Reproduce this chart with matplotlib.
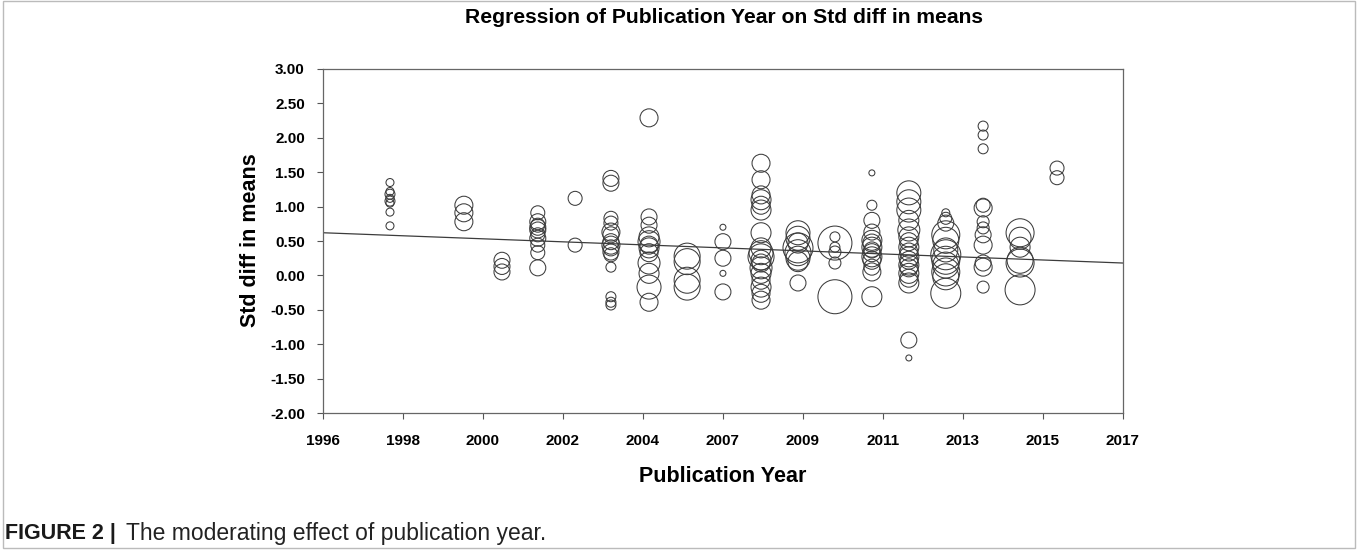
import matplotlib.pyplot as plt
import numpy as np
from matplotlib.patches import Rectangle

plt.rcParams['font.family'] = ['Liberation Sans', 'DejaVu Sans']

# study positions on the year axis, effect sizes and bubble radii (weights)
grp_x = [1997.76, 1999.70, 2000.70, 2001.64, 2002.62, 2003.56, 2004.56, 2005.56,
         2006.50, 2007.50, 2008.47, 2009.44, 2010.41, 2011.38, 2012.35, 2013.33,
         2014.30, 2015.27]

grp_y = [
    [1.35, 1.22, 1.18, 1.12, 1.08, 1.05, 0.92, 0.72],
    [1.02, 0.91, 0.78],
    [0.22, 0.13, 0.05],
    [0.91, 0.78, 0.73, 0.70, 0.66, 0.59, 0.54, 0.44, 0.33, 0.11],
    [1.12, 0.44],
    [1.41, 1.34, 0.83, 0.76, 0.63, 0.59, 0.49, 0.44, 0.40, 0.34, 0.30, 0.12,
     -0.31, -0.39, -0.43],
    [2.29, 0.85, 0.73, 0.56, 0.49, 0.44, 0.40, 0.33, 0.18, 0.03, -0.17, -0.39],
    [0.28, 0.20, -0.07, -0.17],
    [0.70, 0.49, 0.25, 0.03, -0.24],
    [1.63, 1.39, 1.17, 1.10, 1.02, 0.95, 0.62, 0.40, 0.33, 0.27, 0.22, 0.18,
     0.11, 0.03, -0.07, -0.17, -0.26, -0.36],
    [0.62, 0.54, 0.47, 0.40, 0.33, 0.25, 0.20, -0.11],
    [0.47, 0.56, 0.41, 0.34, 0.18, -0.31],
    [1.49, 1.02, 0.80, 0.63, 0.51, 0.47, 0.41, 0.37, 0.33, 0.27, 0.22, 0.12,
     0.05, -0.31],
    [1.20, 1.07, 0.95, 0.80, 0.66, 0.56, 0.49, 0.41, 0.34, 0.27, 0.22, 0.15,
     0.11, 0.03, -0.04, -0.11, -0.94, -1.20],
    [0.91, 0.83, 0.76, 0.59, 0.51, 0.37, 0.30, 0.22, 0.15, 0.05, -0.02, -0.26],
    [2.17, 2.04, 1.84, 1.02, 0.98, 0.78, 0.69, 0.59, 0.44, 0.18, 0.12, -0.17],
    [0.62, 0.54, 0.41, 0.22, 0.18, -0.21],
    [1.56, 1.42],
]

grp_w = [
    [4, 4, 5, 4, 5, 4, 4, 4],
    [9, 9, 9],
    [8, 8, 8],
    [7, 8, 7, 8, 8, 7, 8, 7, 7, 8],
    [7, 7],
    [8, 8, 7, 7, 9, 8, 8, 9, 8, 8, 7, 5, 5, 5, 5],
    [9, 8, 8, 10, 11, 9, 10, 9, 11, 10, 12, 9],
    [13, 13, 13, 13],
    [3, 8, 8, 3, 8],
    [9, 9, 9, 10, 9, 10, 10, 10, 12, 13, 10, 9, 11, 10, 9, 10, 9, 9],
    [12, 12, 10, 15, 13, 12, 10, 8],
    [17, 5, 5, 6, 6, 17],
    [3, 5, 8, 8, 10, 9, 10, 8, 9, 10, 9, 8, 9, 10],
    [12, 12, 12, 10, 11, 10, 9, 10, 9, 10, 9, 10, 9, 10, 9, 10, 8, 3],
    [4, 6, 8, 14, 13, 12, 15, 14, 13, 14, 13, 15],
    [5, 5, 5, 7, 9, 6, 6, 8, 9, 8, 9, 6],
    [14, 11, 10, 13, 14, 15],
    [7, 7],
]

reg_x = [1996, 2017]
reg_y = [0.62, 0.18]

x_ticks = np.linspace(1996, 2017, 11)
x_labels = ['1996', '1998', '2000', '2002', '2004', '2007', '2009', '2011',
            '2013', '2015', '2017']
y_ticks = np.arange(-2.0, 3.01, 0.5)

fig = plt.figure(figsize=(13.58, 5.52), dpi=100)
ax = fig.add_axes([0.2378, 0.2518, 0.5891, 0.6232])

for gx, ys, ws in zip(grp_x, grp_y, grp_w):
    r = np.array(ws, dtype=float)
    s = (2 * r * 0.72) ** 2
    ax.scatter([gx] * len(ys), ys, s=s, facecolors='none',
               edgecolors='#3c3c3c', linewidths=0.75, zorder=3)

ax.plot(reg_x, reg_y, color='#3c3c3c', lw=0.9, zorder=2)

ax.set_xlim(1996, 2017)
ax.set_ylim(-2, 3)
ax.set_xticks(x_ticks)
ax.set_xticklabels(x_labels, fontsize=11, fontweight='bold')
ax.set_yticks(y_ticks)
ax.set_yticklabels(['%.2f' % v for v in y_ticks], fontsize=11, fontweight='bold')
ax.tick_params(direction='out', length=4, width=0.8, color='#555555')
ax.tick_params(axis='y', pad=9)
ax.tick_params(axis='x', pad=11)
for sp in ax.spines.values():
    sp.set_color('#666666')
    sp.set_linewidth(0.9)

ax.set_xlabel('Publication Year', fontsize=15.5, fontweight='bold', labelpad=13)
ax.set_ylabel('Std diff in means', fontsize=15.5, fontweight='bold')
ax.yaxis.set_label_coords(-0.078, 0.503)
fig.text(0.533, 0.968, 'Regression of Publication Year on Std diff in means',
         ha='center', va='center', fontsize=15.2, fontweight='bold')

fig.text(0.004, 0.033, 'FIGURE 2 |', fontsize=15.5, fontweight='bold', va='center',
         color='#1a1a1a')
fig.text(0.093, 0.033, 'The moderating effect of publication year.', fontsize=16.5,
         va='center', color='#222222')

fig.patches.append(Rectangle((0.002, 0.008), 0.996, 0.99, transform=fig.transFigure,
                             fill=False, edgecolor='#bbbbbb', lw=1))

fig.savefig('out.png', dpi=100)
